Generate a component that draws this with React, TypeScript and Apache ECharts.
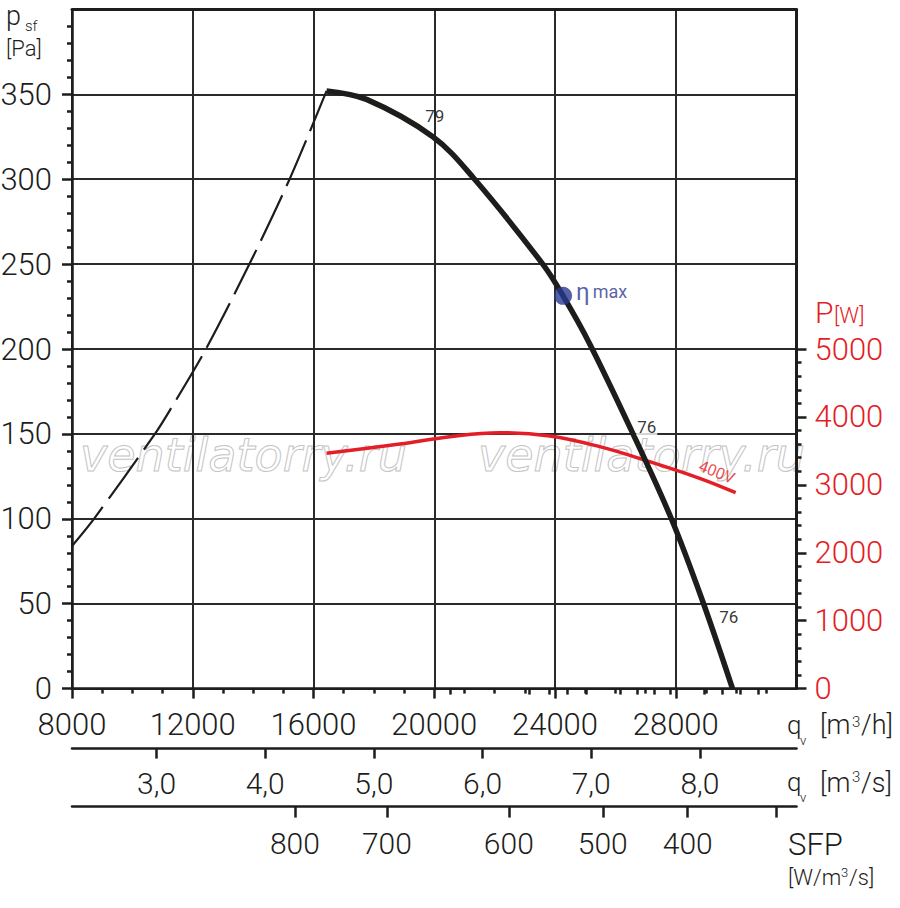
import React, { useEffect, useRef } from "react";
import * as echarts from "echarts";

const FONT = "Roboto, 'DejaVu Sans', sans-serif";
const WEIGHT = 300;
const BLACK = "#1d1d1b";
const GRID = "#2a2a2a";
const RED = "#e41e26";
const BLUE = "#2b3990";

// Axis tick values
const qvHourTicks = [8000, 12000, 16000, 20000, 24000, 28000];
const qvSecTicks = [3, 4, 5, 6, 7, 8];
const pressureTicks = [0, 50, 100, 150, 200, 250, 300, 350];
const powerTicks = [0, 1000, 2000, 3000, 4000, 5000];
const powerMinorTicks = [200, 400, 600, 800, 1200, 1400, 1600, 1800, 2200, 2400, 2600, 2800, 3200, 3400, 3600, 3800, 4200, 4400, 4600, 4800];
// SFP scale (labels placed at the airflow q [m3/h] where they sit)
const sfpLabels = [800, 700, 600, 500, 400];
const sfpLabelQ = [15384, 18430, 22470, 25583, 28397];
const sfpMajorQ = [15384, 18430, 22470, 25583, 28397, 31344];
const sfpMinorQ = [20517, 23132, 23795, 24391, 25020, 26146, 26709, 27272, 27834, 28960, 29556, 30152, 30748];

// Curves
const stallQ = [8000, 8728, 10748, 11245, 12437, 13877, 15207, 16433];
const stallP = [84, 100, 150, 164, 200, 250, 300, 352];
const fanQ = [16433, 17757, 19953, 21287, 23595, 24268, 25151, 26585, 27855, 28880, 29880];
const fanP = [352, 347, 325, 301, 250, 231.3, 203, 150, 100, 52, 0];
const powerQ = [16433, 18860, 20516, 22171, 23826, 25482, 27138, 28793, 29985];
const powerW = [3464, 3600, 3709, 3768, 3719, 3562, 3341, 3096, 2884];

// Efficiency point and annotations
const etaQ = 24268;
const etaP = 231.3;
const noteQ = [20019, 27039, 29754];
const noteP = [337.3, 154.1, 42.2];
const noteText = ["79", "76", "76"];
const voltQ = 29356;
const voltW = 3189;
const voltText = "400V";

const zip = (a: number[], b: number[]) => a.map((v, i) => [v, b[i]]);

const txt = (text: string, x: number, y: number, size: number, opts: any = {}) => ({
  type: "text",
  x,
  y,
  silent: true,
  z: opts.z ?? 10,
  style: {
    text,
    font: `${opts.style || ""} ${opts.weight ?? WEIGHT} ${size}px ${opts.family || FONT}`,
    fill: opts.color || BLACK,
    stroke: opts.stroke,
    lineWidth: opts.lineWidth,
    textAlign: opts.align || "left",
    textVerticalAlign: "middle",
  },
});

const lineStyleBlack = (w: number) => ({ color: BLACK, width: w });

export default function App() {
  const ref = useRef<HTMLDivElement>(null);
  useEffect(() => {
    if (!ref.current) return;
    const chart = echarts.init(ref.current, undefined, { renderer: "svg" });
    const labelBase = { fontFamily: FONT, fontSize: 31, fontWeight: WEIGHT, color: BLACK };
    const option: any = {
      animation: false,
      textStyle: { fontFamily: FONT },
      grid: { left: 72, right: 103.5, top: 9.4, bottom: 219.4, containLabel: false, outerBoundsMode: "none" },
      xAxis: [
        {
          type: "value", min: 8000, max: 32000, interval: 4000, position: "bottom",
          axisLine: { show: true, onZero: false, lineStyle: lineStyleBlack(2.5) },
          axisTick: { show: true, customValues: qvHourTicks, length: 10, lineStyle: lineStyleBlack(2.5) },
          minorTick: { show: true, splitNumber: 4, length: 5, lineStyle: lineStyleBlack(2.5) },
          axisLabel: { ...labelBase, customValues: qvHourTicks, margin: 20, formatter: (v: number) => String(v) },
          splitLine: { show: true, lineStyle: { color: GRID, width: 2 } },
        },
        {
          type: "value", min: 8000 / 3600, max: 32000 / 3600, position: "bottom", offset: 60,
          axisLine: { show: true, onZero: false, lineStyle: lineStyleBlack(2.5) },
          axisTick: { show: true, customValues: qvSecTicks, length: 10, lineStyle: lineStyleBlack(2.5) },
          axisLabel: { ...labelBase, fontSize: 30, customValues: qvSecTicks, margin: 20, formatter: (v: number) => v.toFixed(1).replace(".", ",") },
          splitLine: { show: false },
        },
        {
          type: "value", min: 8000, max: 32000, position: "bottom", offset: 118,
          axisLine: { show: true, onZero: false, lineStyle: lineStyleBlack(2.5) },
          axisTick: { show: true, customValues: sfpMajorQ, length: 11, lineStyle: lineStyleBlack(2.5) },
          axisLabel: {
            ...labelBase, fontSize: 30, customValues: sfpLabelQ, margin: 22,
            formatter: (v: number) => {
              let best = 0;
              sfpLabelQ.forEach((q, i) => { if (Math.abs(q - v) < Math.abs(sfpLabelQ[best] - v)) best = i; });
              return String(sfpLabels[best]);
            },
          },
          splitLine: { show: false },
        },
        {
          type: "value", min: 8000, max: 32000, position: "bottom", offset: 118,
          axisLine: { show: false },
          axisTick: { show: true, customValues: sfpMinorQ, length: 6, lineStyle: lineStyleBlack(2.5) },
          axisLabel: { show: false },
          splitLine: { show: false },
        },
        {
          type: "value", min: 8000, max: 32000, position: "top",
          axisLine: { show: true, onZero: false, lineStyle: lineStyleBlack(3) },
          axisTick: { show: false }, axisLabel: { show: false }, splitLine: { show: false },
        },
      ],
      yAxis: [
        {
          type: "value", min: 0, max: 400, interval: 50, position: "left",
          axisLine: { show: true, onZero: false, lineStyle: lineStyleBlack(2.5) },
          axisTick: { show: true, customValues: pressureTicks, length: 10, lineStyle: lineStyleBlack(2.5) },
          minorTick: { show: true, splitNumber: 5, length: 5, lineStyle: lineStyleBlack(2.5) },
          axisLabel: { ...labelBase, customValues: pressureTicks, margin: 20, formatter: (v: number) => String(v) },
          splitLine: { show: true, lineStyle: { color: GRID, width: 2 } },
        },
        {
          type: "value", min: 0, max: 10000, interval: 1000, position: "right",
          axisLine: { show: true, onZero: false, lineStyle: lineStyleBlack(3) },
          axisTick: { show: true, customValues: powerTicks, length: 10, lineStyle: lineStyleBlack(2.5) },
          axisLabel: { ...labelBase, color: RED, customValues: powerTicks, margin: 18, formatter: (v: number) => String(v) },
          splitLine: { show: false },
        },
        {
          type: "value", min: 0, max: 10000, position: "right",
          axisLine: { show: false },
          axisTick: { show: true, customValues: powerMinorTicks, length: 5, lineStyle: lineStyleBlack(2.5) },
          axisLabel: { show: false },
          splitLine: { show: false },
        },
      ],
      series: [
        {
          type: "line", xAxisIndex: 0, yAxisIndex: 0, data: zip(stallQ, stallP),
          symbol: "none", smooth: 0.3, silent: true, z: 3,
          lineStyle: { color: BLACK, width: 2.2, type: [50, 10] },
        },
        {
          type: "line", xAxisIndex: 0, yAxisIndex: 0, data: zip(fanQ, fanP),
          symbol: "none", smooth: 0.35, silent: true, z: 4,
          lineStyle: { color: BLACK, width: 5.5, cap: "butt" },
        },
        {
          type: "line", xAxisIndex: 0, yAxisIndex: 1, data: zip(powerQ, powerW),
          symbol: "none", smooth: 0.4, silent: true, z: 3,
          lineStyle: { color: RED, width: 3.5 },
        },
        {
          type: "scatter", xAxisIndex: 0, yAxisIndex: 0, data: [[etaQ, etaP]],
          symbolSize: 18, itemStyle: { color: BLUE }, silent: true, z: 6,
          label: {
            show: true, position: "right", distance: 4, offset: [0, -4],
            formatter: "{e|η}{m|max}",
            rich: {
              e: { fontFamily: FONT, fontSize: 24, color: BLUE },
              m: { fontFamily: FONT, fontSize: 18, color: BLUE, padding: [0, 0, 0, 3] },
            },
          },
        },
        {
          type: "scatter", xAxisIndex: 0, yAxisIndex: 0, symbolSize: 0.1, silent: true, z: 7,
          itemStyle: { color: "rgba(0,0,0,0)" },
          data: noteQ.map((q, i) => ({
            value: [q, noteP[i]],
            label: {
              show: true, position: "inside", formatter: noteText[i],
              fontFamily: FONT, fontSize: 17, fontWeight: "normal", color: "#000",
              backgroundColor: i === 1 ? "#ffffff" : "transparent", padding: [0, 1],
            },
          })),
        },
        {
          type: "scatter", xAxisIndex: 0, yAxisIndex: 1, symbolSize: 0.1, silent: true, z: 7,
          itemStyle: { color: "rgba(0,0,0,0)" },
          data: [[voltQ, voltW]],
          label: { show: true, position: "inside", formatter: voltText, rotate: -22, fontFamily: FONT, fontSize: 16, color: RED },
        },
      ],
      graphic: [
        txt("ventilatorry.ru", 80, 455, 46, { style: "italic", weight: "normal", family: "'DejaVu Sans'", color: "none", stroke: "#c4c4c4", lineWidth: 1, z: 0 }),
        txt("ventilatorry.ru", 478, 455, 46, { style: "italic", weight: "normal", family: "'DejaVu Sans'", color: "none", stroke: "#c4c4c4", lineWidth: 1, z: 0 }),
        txt("p", 6, 16, 27),
        txt("sf", 25, 26, 15),
        txt("[Pa]", 6, 48, 22),
        txt("P", 815, 312.5, 30, { color: RED }),
        txt("[W]", 834, 315, 22, { color: RED }),
        txt("q", 787, 725, 26),
        txt("v", 800, 740, 13),
        txt("[m", 820, 725, 27),
        txt("3", 852, 721.7, 15),
        txt("/h]", 861, 725, 27),
        txt("q", 787, 781.6, 26),
        txt("v", 800, 797.3, 13),
        txt("[m", 820, 783.3, 27),
        txt("3", 852, 777, 15),
        txt("/s]", 861, 783.3, 27),
        txt("SFP", 788, 844, 31),
        txt("[W/m", 788, 877, 22),
        txt("3", 841, 872.5, 13),
        txt("/s]", 849, 877, 22),
      ],
    };
    chart.setOption(option);
    return () => chart.dispose();
  }, []);
  return <div ref={ref} style={{ position: "fixed", left: 0, top: 0, width: 900, height: 908, background: "#fff" }} />;
}
